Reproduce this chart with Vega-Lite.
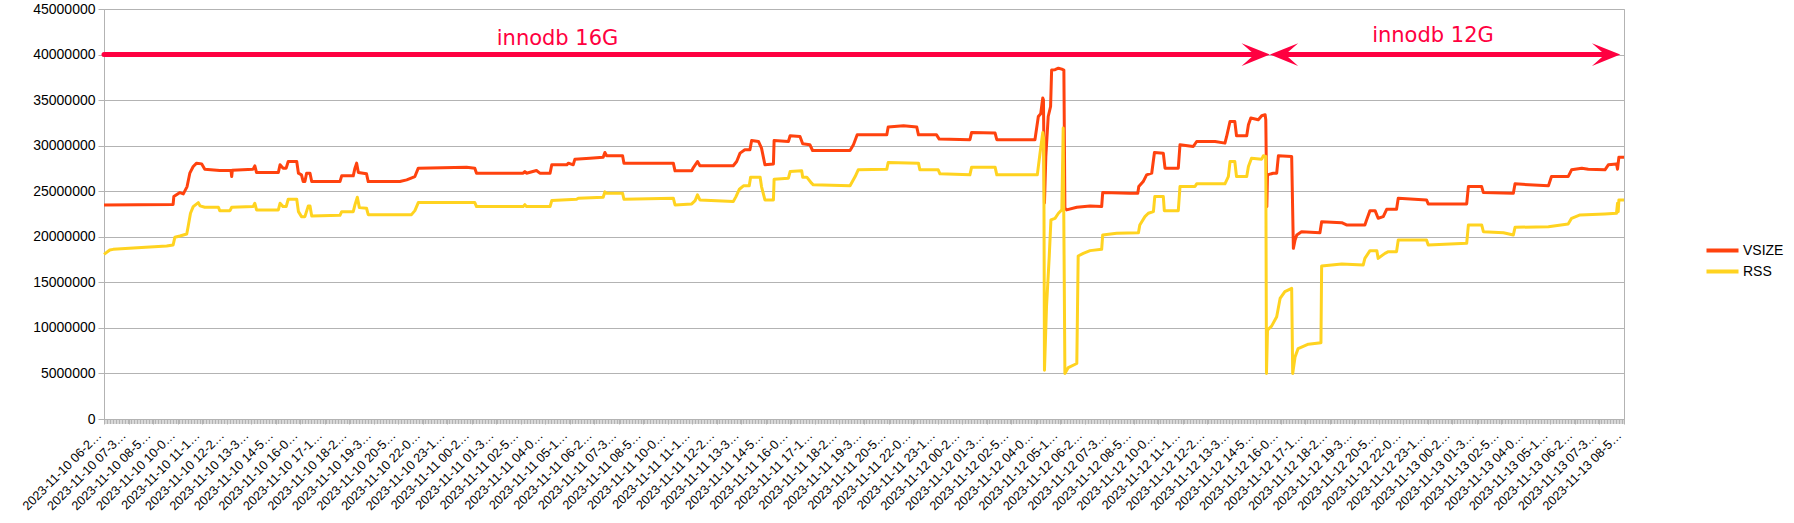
{
  "$schema": "https://vega.github.io/schema/vega-lite/v6.json",
  "width": 1520,
  "height": 410,
  "autosize": {"type": "none"},
  "padding": {"left": 104, "top": 9, "right": 170, "bottom": 104},
  "background": "white",
  "config": {
    "view": {"stroke": "#b3b3b3", "strokeWidth": 1},
    "axis": {"labelFont": "Liberation Sans", "labelColor": "#000000"},
    "legend": {"labelFont": "Liberation Sans", "labelColor": "#000000"}
  },
  "datasets": {
    "mem": [
      {"t":"2023-11-10T06:27","s":"VSIZE","v":23500000},
      {"t":"2023-11-10T09:50","s":"VSIZE","v":23550000},
      {"t":"2023-11-10T09:52","s":"VSIZE","v":24410000},
      {"t":"2023-11-10T10:10","s":"VSIZE","v":24850000},
      {"t":"2023-11-10T10:20","s":"VSIZE","v":24710000},
      {"t":"2023-11-10T10:31","s":"VSIZE","v":25510000},
      {"t":"2023-11-10T10:39","s":"VSIZE","v":26980000},
      {"t":"2023-11-10T10:49","s":"VSIZE","v":27710000},
      {"t":"2023-11-10T10:59","s":"VSIZE","v":28080000},
      {"t":"2023-11-10T11:14","s":"VSIZE","v":28000000},
      {"t":"2023-11-10T11:23","s":"VSIZE","v":27420000},
      {"t":"2023-11-10T12:07","s":"VSIZE","v":27270000},
      {"t":"2023-11-10T12:40","s":"VSIZE","v":27270000},
      {"t":"2023-11-10T12:42","s":"VSIZE","v":26610000},
      {"t":"2023-11-10T12:44","s":"VSIZE","v":27300000},
      {"t":"2023-11-10T13:45","s":"VSIZE","v":27420000},
      {"t":"2023-11-10T13:50","s":"VSIZE","v":27790000},
      {"t":"2023-11-10T13:55","s":"VSIZE","v":27050000},
      {"t":"2023-11-10T14:59","s":"VSIZE","v":27050000},
      {"t":"2023-11-10T15:04","s":"VSIZE","v":27900000},
      {"t":"2023-11-10T15:13","s":"VSIZE","v":27530000},
      {"t":"2023-11-10T15:22","s":"VSIZE","v":27530000},
      {"t":"2023-11-10T15:28","s":"VSIZE","v":28260000},
      {"t":"2023-11-10T15:53","s":"VSIZE","v":28260000},
      {"t":"2023-11-10T15:58","s":"VSIZE","v":26980000},
      {"t":"2023-11-10T16:07","s":"VSIZE","v":26800000},
      {"t":"2023-11-10T16:12","s":"VSIZE","v":26060000},
      {"t":"2023-11-10T16:17","s":"VSIZE","v":26060000},
      {"t":"2023-11-10T16:22","s":"VSIZE","v":26980000},
      {"t":"2023-11-10T16:32","s":"VSIZE","v":26980000},
      {"t":"2023-11-10T16:37","s":"VSIZE","v":26060000},
      {"t":"2023-11-10T18:00","s":"VSIZE","v":26060000},
      {"t":"2023-11-10T18:05","s":"VSIZE","v":26690000},
      {"t":"2023-11-10T18:39","s":"VSIZE","v":26690000},
      {"t":"2023-11-10T18:44","s":"VSIZE","v":27530000},
      {"t":"2023-11-10T18:49","s":"VSIZE","v":28080000},
      {"t":"2023-11-10T18:54","s":"VSIZE","v":27050000},
      {"t":"2023-11-10T19:18","s":"VSIZE","v":26910000},
      {"t":"2023-11-10T19:23","s":"VSIZE","v":26060000},
      {"t":"2023-11-10T20:56","s":"VSIZE","v":26060000},
      {"t":"2023-11-10T21:16","s":"VSIZE","v":26250000},
      {"t":"2023-11-10T21:40","s":"VSIZE","v":26610000},
      {"t":"2023-11-10T21:50","s":"VSIZE","v":27530000},
      {"t":"2023-11-11T00:12","s":"VSIZE","v":27640000},
      {"t":"2023-11-11T00:36","s":"VSIZE","v":27530000},
      {"t":"2023-11-11T00:41","s":"VSIZE","v":26980000},
      {"t":"2023-11-11T02:58","s":"VSIZE","v":26980000},
      {"t":"2023-11-11T03:03","s":"VSIZE","v":27160000},
      {"t":"2023-11-11T03:08","s":"VSIZE","v":26980000},
      {"t":"2023-11-11T03:37","s":"VSIZE","v":27270000},
      {"t":"2023-11-11T03:47","s":"VSIZE","v":26980000},
      {"t":"2023-11-11T04:17","s":"VSIZE","v":26980000},
      {"t":"2023-11-11T04:22","s":"VSIZE","v":27900000},
      {"t":"2023-11-11T05:06","s":"VSIZE","v":27900000},
      {"t":"2023-11-11T05:11","s":"VSIZE","v":28080000},
      {"t":"2023-11-11T05:25","s":"VSIZE","v":27900000},
      {"t":"2023-11-11T05:30","s":"VSIZE","v":28520000},
      {"t":"2023-11-11T06:14","s":"VSIZE","v":28630000},
      {"t":"2023-11-11T06:53","s":"VSIZE","v":28740000},
      {"t":"2023-11-11T06:58","s":"VSIZE","v":29250000},
      {"t":"2023-11-11T07:03","s":"VSIZE","v":28890000},
      {"t":"2023-11-11T07:50","s":"VSIZE","v":28890000},
      {"t":"2023-11-11T07:54","s":"VSIZE","v":28080000},
      {"t":"2023-11-11T10:19","s":"VSIZE","v":28080000},
      {"t":"2023-11-11T10:24","s":"VSIZE","v":27240000},
      {"t":"2023-11-11T11:13","s":"VSIZE","v":27240000},
      {"t":"2023-11-11T11:18","s":"VSIZE","v":27600000},
      {"t":"2023-11-11T11:30","s":"VSIZE","v":28260000},
      {"t":"2023-11-11T11:37","s":"VSIZE","v":27790000},
      {"t":"2023-11-11T13:15","s":"VSIZE","v":27790000},
      {"t":"2023-11-11T13:25","s":"VSIZE","v":28260000},
      {"t":"2023-11-11T13:35","s":"VSIZE","v":29180000},
      {"t":"2023-11-11T13:49","s":"VSIZE","v":29550000},
      {"t":"2023-11-11T14:04","s":"VSIZE","v":29550000},
      {"t":"2023-11-11T14:09","s":"VSIZE","v":30570000},
      {"t":"2023-11-11T14:29","s":"VSIZE","v":30460000},
      {"t":"2023-11-11T14:38","s":"VSIZE","v":29730000},
      {"t":"2023-11-11T14:48","s":"VSIZE","v":27900000},
      {"t":"2023-11-11T15:13","s":"VSIZE","v":28000000},
      {"t":"2023-11-11T15:15","s":"VSIZE","v":30570000},
      {"t":"2023-11-11T15:57","s":"VSIZE","v":30460000},
      {"t":"2023-11-11T16:02","s":"VSIZE","v":31090000},
      {"t":"2023-11-11T16:31","s":"VSIZE","v":31010000},
      {"t":"2023-11-11T16:39","s":"VSIZE","v":30200000},
      {"t":"2023-11-11T17:00","s":"VSIZE","v":30100000},
      {"t":"2023-11-11T17:08","s":"VSIZE","v":29470000},
      {"t":"2023-11-11T18:58","s":"VSIZE","v":29470000},
      {"t":"2023-11-11T19:08","s":"VSIZE","v":30100000},
      {"t":"2023-11-11T19:19","s":"VSIZE","v":31190000},
      {"t":"2023-11-11T20:46","s":"VSIZE","v":31190000},
      {"t":"2023-11-11T20:50","s":"VSIZE","v":32040000},
      {"t":"2023-11-11T21:35","s":"VSIZE","v":32180000},
      {"t":"2023-11-11T22:14","s":"VSIZE","v":32040000},
      {"t":"2023-11-11T22:19","s":"VSIZE","v":31190000},
      {"t":"2023-11-11T23:12","s":"VSIZE","v":31190000},
      {"t":"2023-11-11T23:20","s":"VSIZE","v":30720000},
      {"t":"2023-11-12T00:50","s":"VSIZE","v":30650000},
      {"t":"2023-11-12T00:55","s":"VSIZE","v":31450000},
      {"t":"2023-11-12T02:04","s":"VSIZE","v":31380000},
      {"t":"2023-11-12T02:09","s":"VSIZE","v":30650000},
      {"t":"2023-11-12T04:01","s":"VSIZE","v":30650000},
      {"t":"2023-11-12T04:11","s":"VSIZE","v":33200000},
      {"t":"2023-11-12T04:18","s":"VSIZE","v":33500000},
      {"t":"2023-11-12T04:24","s":"VSIZE","v":35230000},
      {"t":"2023-11-12T04:26","s":"VSIZE","v":35040000},
      {"t":"2023-11-12T04:29","s":"VSIZE","v":23700000},
      {"t":"2023-11-12T04:33","s":"VSIZE","v":28800000},
      {"t":"2023-11-12T04:40","s":"VSIZE","v":33200000},
      {"t":"2023-11-12T04:47","s":"VSIZE","v":34300000},
      {"t":"2023-11-12T04:50","s":"VSIZE","v":38300000},
      {"t":"2023-11-12T05:00","s":"VSIZE","v":38340000},
      {"t":"2023-11-12T05:10","s":"VSIZE","v":38500000},
      {"t":"2023-11-12T05:20","s":"VSIZE","v":38400000},
      {"t":"2023-11-12T05:26","s":"VSIZE","v":38300000},
      {"t":"2023-11-12T05:29","s":"VSIZE","v":23170000},
      {"t":"2023-11-12T05:34","s":"VSIZE","v":22950000},
      {"t":"2023-11-12T06:04","s":"VSIZE","v":23240000},
      {"t":"2023-11-12T06:43","s":"VSIZE","v":23390000},
      {"t":"2023-11-12T07:17","s":"VSIZE","v":23310000},
      {"t":"2023-11-12T07:20","s":"VSIZE","v":24850000},
      {"t":"2023-11-12T08:40","s":"VSIZE","v":24780000},
      {"t":"2023-11-12T09:03","s":"VSIZE","v":24780000},
      {"t":"2023-11-12T09:06","s":"VSIZE","v":25510000},
      {"t":"2023-11-12T09:19","s":"VSIZE","v":26060000},
      {"t":"2023-11-12T09:29","s":"VSIZE","v":26800000},
      {"t":"2023-11-12T09:44","s":"VSIZE","v":26980000},
      {"t":"2023-11-12T09:52","s":"VSIZE","v":29250000},
      {"t":"2023-11-12T10:18","s":"VSIZE","v":29180000},
      {"t":"2023-11-12T10:23","s":"VSIZE","v":27530000},
      {"t":"2023-11-12T11:02","s":"VSIZE","v":27530000},
      {"t":"2023-11-12T11:07","s":"VSIZE","v":30100000},
      {"t":"2023-11-12T11:46","s":"VSIZE","v":29910000},
      {"t":"2023-11-12T11:56","s":"VSIZE","v":30460000},
      {"t":"2023-11-12T12:50","s":"VSIZE","v":30460000},
      {"t":"2023-11-12T13:19","s":"VSIZE","v":30280000},
      {"t":"2023-11-12T13:24","s":"VSIZE","v":31010000},
      {"t":"2023-11-12T13:34","s":"VSIZE","v":32660000},
      {"t":"2023-11-12T13:48","s":"VSIZE","v":32660000},
      {"t":"2023-11-12T13:53","s":"VSIZE","v":31090000},
      {"t":"2023-11-12T14:23","s":"VSIZE","v":31090000},
      {"t":"2023-11-12T14:28","s":"VSIZE","v":32290000},
      {"t":"2023-11-12T14:35","s":"VSIZE","v":33030000},
      {"t":"2023-11-12T14:57","s":"VSIZE","v":32840000},
      {"t":"2023-11-12T15:07","s":"VSIZE","v":33280000},
      {"t":"2023-11-12T15:17","s":"VSIZE","v":33390000},
      {"t":"2023-11-12T15:19","s":"VSIZE","v":32840000},
      {"t":"2023-11-12T15:22","s":"VSIZE","v":23310000},
      {"t":"2023-11-12T15:24","s":"VSIZE","v":26800000},
      {"t":"2023-11-12T15:41","s":"VSIZE","v":26980000},
      {"t":"2023-11-12T15:51","s":"VSIZE","v":26980000},
      {"t":"2023-11-12T15:56","s":"VSIZE","v":28890000},
      {"t":"2023-11-12T16:35","s":"VSIZE","v":28810000},
      {"t":"2023-11-12T16:40","s":"VSIZE","v":18730000},
      {"t":"2023-11-12T16:45","s":"VSIZE","v":19650000},
      {"t":"2023-11-12T16:50","s":"VSIZE","v":20200000},
      {"t":"2023-11-12T17:04","s":"VSIZE","v":20560000},
      {"t":"2023-11-12T17:58","s":"VSIZE","v":20450000},
      {"t":"2023-11-12T18:03","s":"VSIZE","v":21660000},
      {"t":"2023-11-12T19:02","s":"VSIZE","v":21550000},
      {"t":"2023-11-12T19:16","s":"VSIZE","v":21300000},
      {"t":"2023-11-12T20:10","s":"VSIZE","v":21300000},
      {"t":"2023-11-12T20:15","s":"VSIZE","v":21850000},
      {"t":"2023-11-12T20:25","s":"VSIZE","v":22870000},
      {"t":"2023-11-12T20:40","s":"VSIZE","v":22870000},
      {"t":"2023-11-12T20:49","s":"VSIZE","v":22030000},
      {"t":"2023-11-12T21:04","s":"VSIZE","v":22210000},
      {"t":"2023-11-12T21:14","s":"VSIZE","v":23020000},
      {"t":"2023-11-12T21:43","s":"VSIZE","v":23020000},
      {"t":"2023-11-12T21:48","s":"VSIZE","v":24230000},
      {"t":"2023-11-12T23:11","s":"VSIZE","v":24050000},
      {"t":"2023-11-12T23:16","s":"VSIZE","v":23610000},
      {"t":"2023-11-13T01:09","s":"VSIZE","v":23610000},
      {"t":"2023-11-13T01:14","s":"VSIZE","v":25510000},
      {"t":"2023-11-13T01:53","s":"VSIZE","v":25510000},
      {"t":"2023-11-13T01:58","s":"VSIZE","v":24850000},
      {"t":"2023-11-13T03:26","s":"VSIZE","v":24780000},
      {"t":"2023-11-13T03:31","s":"VSIZE","v":25810000},
      {"t":"2023-11-13T05:09","s":"VSIZE","v":25590000},
      {"t":"2023-11-13T05:18","s":"VSIZE","v":26610000},
      {"t":"2023-11-13T06:07","s":"VSIZE","v":26610000},
      {"t":"2023-11-13T06:17","s":"VSIZE","v":27350000},
      {"t":"2023-11-13T06:47","s":"VSIZE","v":27530000},
      {"t":"2023-11-13T07:06","s":"VSIZE","v":27420000},
      {"t":"2023-11-13T07:55","s":"VSIZE","v":27350000},
      {"t":"2023-11-13T08:05","s":"VSIZE","v":27900000},
      {"t":"2023-11-13T08:29","s":"VSIZE","v":28000000},
      {"t":"2023-11-13T08:32","s":"VSIZE","v":27420000},
      {"t":"2023-11-13T08:36","s":"VSIZE","v":28740000},
      {"t":"2023-11-13T08:51","s":"VSIZE","v":28740000},
      {"t":"2023-11-10T06:27","s":"RSS","v":18070000},
      {"t":"2023-11-10T06:44","s":"RSS","v":18550000},
      {"t":"2023-11-10T06:54","s":"RSS","v":18620000},
      {"t":"2023-11-10T07:53","s":"RSS","v":18770000},
      {"t":"2023-11-10T09:31","s":"RSS","v":18990000},
      {"t":"2023-11-10T09:50","s":"RSS","v":19100000},
      {"t":"2023-11-10T09:55","s":"RSS","v":19940000},
      {"t":"2023-11-10T10:10","s":"RSS","v":20090000},
      {"t":"2023-11-10T10:30","s":"RSS","v":20310000},
      {"t":"2023-11-10T10:34","s":"RSS","v":21110000},
      {"t":"2023-11-10T10:41","s":"RSS","v":22580000},
      {"t":"2023-11-10T10:49","s":"RSS","v":23310000},
      {"t":"2023-11-10T11:04","s":"RSS","v":23750000},
      {"t":"2023-11-10T11:09","s":"RSS","v":23390000},
      {"t":"2023-11-10T11:23","s":"RSS","v":23240000},
      {"t":"2023-11-10T12:03","s":"RSS","v":23240000},
      {"t":"2023-11-10T12:07","s":"RSS","v":22870000},
      {"t":"2023-11-10T12:37","s":"RSS","v":22870000},
      {"t":"2023-11-10T12:42","s":"RSS","v":23240000},
      {"t":"2023-11-10T13:45","s":"RSS","v":23310000},
      {"t":"2023-11-10T13:50","s":"RSS","v":23680000},
      {"t":"2023-11-10T13:55","s":"RSS","v":22950000},
      {"t":"2023-11-10T14:59","s":"RSS","v":22950000},
      {"t":"2023-11-10T15:04","s":"RSS","v":23680000},
      {"t":"2023-11-10T15:13","s":"RSS","v":23310000},
      {"t":"2023-11-10T15:22","s":"RSS","v":23310000},
      {"t":"2023-11-10T15:28","s":"RSS","v":24120000},
      {"t":"2023-11-10T15:53","s":"RSS","v":24120000},
      {"t":"2023-11-10T15:58","s":"RSS","v":22760000},
      {"t":"2023-11-10T16:07","s":"RSS","v":22210000},
      {"t":"2023-11-10T16:17","s":"RSS","v":22210000},
      {"t":"2023-11-10T16:27","s":"RSS","v":23390000},
      {"t":"2023-11-10T16:32","s":"RSS","v":23390000},
      {"t":"2023-11-10T16:37","s":"RSS","v":22290000},
      {"t":"2023-11-10T18:00","s":"RSS","v":22360000},
      {"t":"2023-11-10T18:05","s":"RSS","v":22760000},
      {"t":"2023-11-10T18:39","s":"RSS","v":22760000},
      {"t":"2023-11-10T18:44","s":"RSS","v":23500000},
      {"t":"2023-11-10T18:51","s":"RSS","v":24340000},
      {"t":"2023-11-10T18:57","s":"RSS","v":23200000},
      {"t":"2023-11-10T19:18","s":"RSS","v":23130000},
      {"t":"2023-11-10T19:23","s":"RSS","v":22430000},
      {"t":"2023-11-10T21:30","s":"RSS","v":22430000},
      {"t":"2023-11-10T21:40","s":"RSS","v":22870000},
      {"t":"2023-11-10T21:50","s":"RSS","v":23750000},
      {"t":"2023-11-11T00:36","s":"RSS","v":23750000},
      {"t":"2023-11-11T00:41","s":"RSS","v":23310000},
      {"t":"2023-11-11T02:58","s":"RSS","v":23310000},
      {"t":"2023-11-11T03:03","s":"RSS","v":23530000},
      {"t":"2023-11-11T03:08","s":"RSS","v":23310000},
      {"t":"2023-11-11T04:17","s":"RSS","v":23310000},
      {"t":"2023-11-11T04:22","s":"RSS","v":23970000},
      {"t":"2023-11-11T05:35","s":"RSS","v":24120000},
      {"t":"2023-11-11T05:40","s":"RSS","v":24230000},
      {"t":"2023-11-11T06:53","s":"RSS","v":24340000},
      {"t":"2023-11-11T06:58","s":"RSS","v":24930000},
      {"t":"2023-11-11T07:03","s":"RSS","v":24780000},
      {"t":"2023-11-11T07:50","s":"RSS","v":24780000},
      {"t":"2023-11-11T07:54","s":"RSS","v":24120000},
      {"t":"2023-11-11T10:19","s":"RSS","v":24230000},
      {"t":"2023-11-11T10:24","s":"RSS","v":23500000},
      {"t":"2023-11-11T11:13","s":"RSS","v":23610000},
      {"t":"2023-11-11T11:23","s":"RSS","v":23970000},
      {"t":"2023-11-11T11:30","s":"RSS","v":24600000},
      {"t":"2023-11-11T11:37","s":"RSS","v":24050000},
      {"t":"2023-11-11T13:15","s":"RSS","v":23860000},
      {"t":"2023-11-11T13:23","s":"RSS","v":24410000},
      {"t":"2023-11-11T13:33","s":"RSS","v":25220000},
      {"t":"2023-11-11T13:45","s":"RSS","v":25590000},
      {"t":"2023-11-11T14:02","s":"RSS","v":25590000},
      {"t":"2023-11-11T14:06","s":"RSS","v":26540000},
      {"t":"2023-11-11T14:34","s":"RSS","v":26540000},
      {"t":"2023-11-11T14:38","s":"RSS","v":25510000},
      {"t":"2023-11-11T14:48","s":"RSS","v":24050000},
      {"t":"2023-11-11T15:13","s":"RSS","v":24050000},
      {"t":"2023-11-11T15:15","s":"RSS","v":26320000},
      {"t":"2023-11-11T15:57","s":"RSS","v":26430000},
      {"t":"2023-11-11T16:02","s":"RSS","v":27160000},
      {"t":"2023-11-11T16:36","s":"RSS","v":27240000},
      {"t":"2023-11-11T16:39","s":"RSS","v":26540000},
      {"t":"2023-11-11T16:51","s":"RSS","v":26540000},
      {"t":"2023-11-11T17:05","s":"RSS","v":25880000},
      {"t":"2023-11-11T17:10","s":"RSS","v":25700000},
      {"t":"2023-11-11T18:58","s":"RSS","v":25590000},
      {"t":"2023-11-11T19:13","s":"RSS","v":26610000},
      {"t":"2023-11-11T19:22","s":"RSS","v":27350000},
      {"t":"2023-11-11T20:46","s":"RSS","v":27420000},
      {"t":"2023-11-11T20:50","s":"RSS","v":28150000},
      {"t":"2023-11-11T22:19","s":"RSS","v":28080000},
      {"t":"2023-11-11T22:23","s":"RSS","v":27350000},
      {"t":"2023-11-11T23:17","s":"RSS","v":27350000},
      {"t":"2023-11-11T23:22","s":"RSS","v":26910000},
      {"t":"2023-11-12T00:50","s":"RSS","v":26800000},
      {"t":"2023-11-12T00:55","s":"RSS","v":27640000},
      {"t":"2023-11-12T02:04","s":"RSS","v":27640000},
      {"t":"2023-11-12T02:09","s":"RSS","v":26800000},
      {"t":"2023-11-12T04:08","s":"RSS","v":26800000},
      {"t":"2023-11-12T04:16","s":"RSS","v":29180000},
      {"t":"2023-11-12T04:24","s":"RSS","v":31450000},
      {"t":"2023-11-12T04:27","s":"RSS","v":30650000},
      {"t":"2023-11-12T04:29","s":"RSS","v":5350000},
      {"t":"2023-11-12T04:35","s":"RSS","v":12320000},
      {"t":"2023-11-12T04:43","s":"RSS","v":17820000},
      {"t":"2023-11-12T04:48","s":"RSS","v":21850000},
      {"t":"2023-11-12T05:00","s":"RSS","v":22030000},
      {"t":"2023-11-12T05:10","s":"RSS","v":22580000},
      {"t":"2023-11-12T05:20","s":"RSS","v":22950000},
      {"t":"2023-11-12T05:24","s":"RSS","v":31930000},
      {"t":"2023-11-12T05:29","s":"RSS","v":4990000},
      {"t":"2023-11-12T05:39","s":"RSS","v":5650000},
      {"t":"2023-11-12T06:04","s":"RSS","v":6090000},
      {"t":"2023-11-12T06:08","s":"RSS","v":17890000},
      {"t":"2023-11-12T06:23","s":"RSS","v":18180000},
      {"t":"2023-11-12T06:43","s":"RSS","v":18480000},
      {"t":"2023-11-12T07:17","s":"RSS","v":18620000},
      {"t":"2023-11-12T07:20","s":"RSS","v":20200000},
      {"t":"2023-11-12T08:01","s":"RSS","v":20380000},
      {"t":"2023-11-12T09:05","s":"RSS","v":20450000},
      {"t":"2023-11-12T09:09","s":"RSS","v":21300000},
      {"t":"2023-11-12T09:24","s":"RSS","v":22210000},
      {"t":"2023-11-12T09:34","s":"RSS","v":22580000},
      {"t":"2023-11-12T09:49","s":"RSS","v":22760000},
      {"t":"2023-11-12T09:53","s":"RSS","v":24410000},
      {"t":"2023-11-12T10:18","s":"RSS","v":24410000},
      {"t":"2023-11-12T10:21","s":"RSS","v":22870000},
      {"t":"2023-11-12T11:02","s":"RSS","v":22870000},
      {"t":"2023-11-12T11:07","s":"RSS","v":25510000},
      {"t":"2023-11-12T11:51","s":"RSS","v":25510000},
      {"t":"2023-11-12T11:56","s":"RSS","v":25810000},
      {"t":"2023-11-12T13:19","s":"RSS","v":25810000},
      {"t":"2023-11-12T13:29","s":"RSS","v":26610000},
      {"t":"2023-11-12T13:34","s":"RSS","v":28260000},
      {"t":"2023-11-12T13:48","s":"RSS","v":28260000},
      {"t":"2023-11-12T13:53","s":"RSS","v":26610000},
      {"t":"2023-11-12T14:23","s":"RSS","v":26610000},
      {"t":"2023-11-12T14:28","s":"RSS","v":27710000},
      {"t":"2023-11-12T14:37","s":"RSS","v":28630000},
      {"t":"2023-11-12T15:07","s":"RSS","v":28520000},
      {"t":"2023-11-12T15:12","s":"RSS","v":28890000},
      {"t":"2023-11-12T15:19","s":"RSS","v":28810000},
      {"t":"2023-11-12T15:21","s":"RSS","v":4990000},
      {"t":"2023-11-12T15:24","s":"RSS","v":9750000},
      {"t":"2023-11-12T15:36","s":"RSS","v":10190000},
      {"t":"2023-11-12T15:51","s":"RSS","v":11220000},
      {"t":"2023-11-12T16:01","s":"RSS","v":13230000},
      {"t":"2023-11-12T16:15","s":"RSS","v":13970000},
      {"t":"2023-11-12T16:35","s":"RSS","v":14330000},
      {"t":"2023-11-12T16:38","s":"RSS","v":4990000},
      {"t":"2023-11-12T16:45","s":"RSS","v":6820000},
      {"t":"2023-11-12T16:54","s":"RSS","v":7730000},
      {"t":"2023-11-12T17:24","s":"RSS","v":8210000},
      {"t":"2023-11-12T18:01","s":"RSS","v":8360000},
      {"t":"2023-11-12T18:03","s":"RSS","v":16790000},
      {"t":"2023-11-12T19:02","s":"RSS","v":17010000},
      {"t":"2023-11-12T20:05","s":"RSS","v":16900000},
      {"t":"2023-11-12T20:10","s":"RSS","v":17630000},
      {"t":"2023-11-12T20:25","s":"RSS","v":18480000},
      {"t":"2023-11-12T20:45","s":"RSS","v":18480000},
      {"t":"2023-11-12T20:49","s":"RSS","v":17630000},
      {"t":"2023-11-12T21:09","s":"RSS","v":18180000},
      {"t":"2023-11-12T21:19","s":"RSS","v":18370000},
      {"t":"2023-11-12T21:43","s":"RSS","v":18370000},
      {"t":"2023-11-12T21:48","s":"RSS","v":19650000},
      {"t":"2023-11-12T23:11","s":"RSS","v":19650000},
      {"t":"2023-11-12T23:16","s":"RSS","v":19100000},
      {"t":"2023-11-13T01:09","s":"RSS","v":19280000},
      {"t":"2023-11-13T01:14","s":"RSS","v":21300000},
      {"t":"2023-11-13T01:53","s":"RSS","v":21300000},
      {"t":"2023-11-13T01:58","s":"RSS","v":20560000},
      {"t":"2023-11-13T02:57","s":"RSS","v":20450000},
      {"t":"2023-11-13T03:26","s":"RSS","v":20200000},
      {"t":"2023-11-13T03:31","s":"RSS","v":21040000},
      {"t":"2023-11-13T05:09","s":"RSS","v":21110000},
      {"t":"2023-11-13T06:07","s":"RSS","v":21410000},
      {"t":"2023-11-13T06:17","s":"RSS","v":22030000},
      {"t":"2023-11-13T06:42","s":"RSS","v":22400000},
      {"t":"2023-11-13T07:55","s":"RSS","v":22510000},
      {"t":"2023-11-13T08:29","s":"RSS","v":22580000},
      {"t":"2023-11-13T08:32","s":"RSS","v":23680000},
      {"t":"2023-11-13T08:34","s":"RSS","v":22760000},
      {"t":"2023-11-13T08:36","s":"RSS","v":24050000},
      {"t":"2023-11-13T08:51","s":"RSS","v":24050000}
    ],
    "arrows": [
      {"t":"2023-11-10T06:27","t2":"2023-11-12T15:00","v":40000000},
      {"t":"2023-11-12T15:55","t2":"2023-11-13T08:15","v":40000000}
    ],
    "heads": [
      {"t":"2023-11-12T15:31","v":40000000,"d":"r"},
      {"t":"2023-11-12T15:31","v":40000000,"d":"l"},
      {"t":"2023-11-13T08:40","v":40000000,"d":"r"}
    ],
    "notes": [
      {"t":"2023-11-11T04:39","v":41700000,"label":"innodb 16G"},
      {"t":"2023-11-12T23:30","v":42060000,"label":"innodb 12G"}
    ],
    "tickband": [
      {"t":"2023-11-10T06:27","t2":"2023-11-13T08:51","v":-274000}
    ]
  },
  "encoding": {
    "x": {
      "field": "t", "type": "temporal",
      "scale": {"domain": [{"year":2023,"month":11,"date":10,"hours":6,"minutes":27},{"year":2023,"month":11,"date":13,"hours":8,"minutes":51}], "nice": false},
      "axis": {
        "orient": "bottom", "title": null, "grid": false,
        "domain": true, "domainColor": "#b3b3b3", "domainWidth": 1,
        "ticks": true, "tickSize": 5, "tickColor": "#b3b3b3", "tickWidth": 1,
        "format": "%Y-%m-%d %H-%M-%S", "formatType": "time",
        "labelAngle": -45, "labelAlign": "right", "labelBaseline": "middle",
        "labelFontSize": 12.7, "labelLimit": 110, "labelPadding": 9, "labelOffset": -5,
        "labelOverlap": false, "labelFlush": false,
        "values": [
          {"year":2023,"month":11,"date":10,"hours":6,"minutes":27},
          {"year":2023,"month":11,"date":10,"hours":7,"minutes":39},
          {"year":2023,"month":11,"date":10,"hours":8,"minutes":51},
          {"year":2023,"month":11,"date":10,"hours":10,"minutes":3},
          {"year":2023,"month":11,"date":10,"hours":11,"minutes":15},
          {"year":2023,"month":11,"date":10,"hours":12,"minutes":27},
          {"year":2023,"month":11,"date":10,"hours":13,"minutes":39},
          {"year":2023,"month":11,"date":10,"hours":14,"minutes":51},
          {"year":2023,"month":11,"date":10,"hours":16,"minutes":3},
          {"year":2023,"month":11,"date":10,"hours":17,"minutes":15},
          {"year":2023,"month":11,"date":10,"hours":18,"minutes":27},
          {"year":2023,"month":11,"date":10,"hours":19,"minutes":39},
          {"year":2023,"month":11,"date":10,"hours":20,"minutes":51},
          {"year":2023,"month":11,"date":10,"hours":22,"minutes":3},
          {"year":2023,"month":11,"date":10,"hours":23,"minutes":15},
          {"year":2023,"month":11,"date":11,"hours":0,"minutes":27},
          {"year":2023,"month":11,"date":11,"hours":1,"minutes":39},
          {"year":2023,"month":11,"date":11,"hours":2,"minutes":51},
          {"year":2023,"month":11,"date":11,"hours":4,"minutes":3},
          {"year":2023,"month":11,"date":11,"hours":5,"minutes":15},
          {"year":2023,"month":11,"date":11,"hours":6,"minutes":27},
          {"year":2023,"month":11,"date":11,"hours":7,"minutes":39},
          {"year":2023,"month":11,"date":11,"hours":8,"minutes":51},
          {"year":2023,"month":11,"date":11,"hours":10,"minutes":3},
          {"year":2023,"month":11,"date":11,"hours":11,"minutes":15},
          {"year":2023,"month":11,"date":11,"hours":12,"minutes":27},
          {"year":2023,"month":11,"date":11,"hours":13,"minutes":39},
          {"year":2023,"month":11,"date":11,"hours":14,"minutes":51},
          {"year":2023,"month":11,"date":11,"hours":16,"minutes":3},
          {"year":2023,"month":11,"date":11,"hours":17,"minutes":15},
          {"year":2023,"month":11,"date":11,"hours":18,"minutes":27},
          {"year":2023,"month":11,"date":11,"hours":19,"minutes":39},
          {"year":2023,"month":11,"date":11,"hours":20,"minutes":51},
          {"year":2023,"month":11,"date":11,"hours":22,"minutes":3},
          {"year":2023,"month":11,"date":11,"hours":23,"minutes":15},
          {"year":2023,"month":11,"date":12,"hours":0,"minutes":27},
          {"year":2023,"month":11,"date":12,"hours":1,"minutes":39},
          {"year":2023,"month":11,"date":12,"hours":2,"minutes":51},
          {"year":2023,"month":11,"date":12,"hours":4,"minutes":3},
          {"year":2023,"month":11,"date":12,"hours":5,"minutes":15},
          {"year":2023,"month":11,"date":12,"hours":6,"minutes":27},
          {"year":2023,"month":11,"date":12,"hours":7,"minutes":39},
          {"year":2023,"month":11,"date":12,"hours":8,"minutes":51},
          {"year":2023,"month":11,"date":12,"hours":10,"minutes":3},
          {"year":2023,"month":11,"date":12,"hours":11,"minutes":15},
          {"year":2023,"month":11,"date":12,"hours":12,"minutes":27},
          {"year":2023,"month":11,"date":12,"hours":13,"minutes":39},
          {"year":2023,"month":11,"date":12,"hours":14,"minutes":51},
          {"year":2023,"month":11,"date":12,"hours":16,"minutes":3},
          {"year":2023,"month":11,"date":12,"hours":17,"minutes":15},
          {"year":2023,"month":11,"date":12,"hours":18,"minutes":27},
          {"year":2023,"month":11,"date":12,"hours":19,"minutes":39},
          {"year":2023,"month":11,"date":12,"hours":20,"minutes":51},
          {"year":2023,"month":11,"date":12,"hours":22,"minutes":3},
          {"year":2023,"month":11,"date":12,"hours":23,"minutes":15},
          {"year":2023,"month":11,"date":13,"hours":0,"minutes":27},
          {"year":2023,"month":11,"date":13,"hours":1,"minutes":39},
          {"year":2023,"month":11,"date":13,"hours":2,"minutes":51},
          {"year":2023,"month":11,"date":13,"hours":4,"minutes":3},
          {"year":2023,"month":11,"date":13,"hours":5,"minutes":15},
          {"year":2023,"month":11,"date":13,"hours":6,"minutes":27},
          {"year":2023,"month":11,"date":13,"hours":7,"minutes":39},
          {"year":2023,"month":11,"date":13,"hours":8,"minutes":51}
        ]
      }
    },
    "y": {
      "field": "v", "type": "quantitative",
      "scale": {"domain": [0, 45000000], "nice": false},
      "axis": {
        "title": null, "tickCount": 9,
        "format": "d", "grid": true, "gridColor": "#b3b3b3", "gridWidth": 1,
        "domain": true, "domainColor": "#b3b3b3", "ticks": true, "tickSize": 6, "tickColor": "#b3b3b3",
        "labelFontSize": 14, "labelPadding": 3
      }
    }
  },
  "layer": [
    {
      "data": {"name": "tickband"},
      "mark": {"type": "rule", "color": "#b3b3b3", "strokeWidth": 5, "strokeDash": [1, 0.5]},
      "encoding": {
        "x2": {"field": "t2"}
      }
    },
    {
      "data": {"name": "mem"},
      "mark": {"type": "line", "strokeWidth": 3, "strokeJoin": "round"},
      "encoding": {
        "color": {
          "field": "s", "type": "nominal",
          "scale": {"domain": ["VSIZE", "RSS"], "range": ["#ff420e", "#ffd320"]},
          "legend": {
            "title": null, "orient": "none", "legendX": 1610, "legendY": 233,
            "symbolType": "M-2.5,0H2.5", "symbolSize": 164, "symbolStrokeWidth": 4,
            "labelFontSize": 14, "labelOffset": 12, "rowPadding": 4, "padding": 0
          }
        }
      }
    },
    {
      "data": {"name": "arrows"},
      "mark": {"type": "rule", "color": "#ff0040", "strokeWidth": 5, "strokeCap": "round"},
      "encoding": {
        "x2": {"field": "t2"}
      }
    },
    {
      "data": {"name": "heads"},
      "mark": {"type": "point", "filled": true, "opacity": 1, "size": 784, "color": "#ff0040", "strokeWidth": 0},
      "encoding": {
        "shape": {"field": "d", "type": "nominal", "scale": {"domain": ["r", "l"], "range": ["M0,0L-2.02,-0.81L-1.1,0L-2.02,0.81Z", "M0,0L2.02,-0.81L1.1,0L2.02,0.81Z"]}, "legend": null}
      }
    },
    {
      "data": {"name": "notes"},
      "mark": {"type": "text", "font": "DejaVu Sans", "fontSize": 21, "color": "#ff0040", "align": "center", "baseline": "middle"},
      "encoding": {
        "text": {"field": "label"}
      }
    }
  ]
}
